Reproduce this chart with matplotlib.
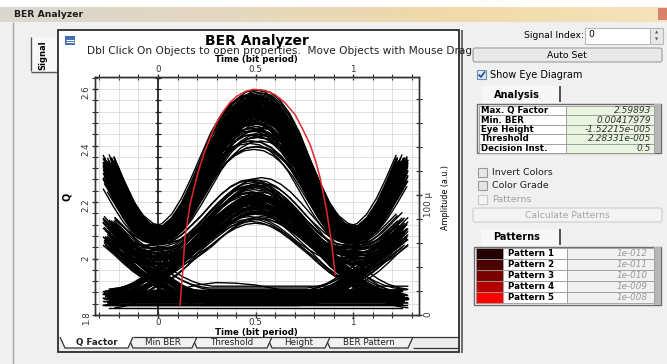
import matplotlib
matplotlib.use("Agg")
import matplotlib.pyplot as plt
from matplotlib.colors import LinearSegmentedColormap
from matplotlib.patches import Rectangle, Polygon, FancyBboxPatch
import numpy as np

plt.rcParams['font.family'] = ['DejaVu Sans']

# --- eye diagram ---
# sampling instants of one trace (bit periods)
T = [-0.25, -0.2, -0.15, -0.1, -0.05, 0.0, 0.05, 0.1, 0.15, 0.2, 0.25, 0.3, 0.35, 0.4, 0.45, 0.5,
     0.55, 0.6, 0.65, 0.7, 0.75, 0.8, 0.85, 0.9, 0.95, 1.0, 1.05, 1.1, 1.15, 1.2, 1.25]

# upper family (0 at the trough near t=0, 1 at the top near t=0.5)
HIGH_PROFILE = [0.54, 0.37, 0.215, 0.095, 0.024, 0.0, 0.024, 0.095, 0.215, 0.37, 0.54, 0.71, 0.84, 0.93, 0.985, 1.0,
                0.985, 0.93, 0.84, 0.71, 0.54, 0.37, 0.215, 0.095, 0.024, 0.0, 0.024, 0.095, 0.215, 0.37, 0.54]
HIGH_PEAK = [186, 184, 183, 181, 180, 179, 178, 177, 176, 175, 175, 174, 173, 172, 171, 170, 169, 168,
             167, 166, 165, 164, 163, 161, 160, 158, 156, 154, 152, 150, 147, 144, 141, 182, 177, 171]
HIGH_TROUGH = [64, 66, 63, 68, 65, 70, 62, 67, 64, 66, 69, 63, 65, 71, 64, 67, 62, 66,
               68, 63, 65, 70, 64, 67, 62, 66, 63, 68, 65, 61, 64, 66, 63, 72, 69, 65]

# lower family: pulse of the previous, current and next bit
PULSE_PREV = [0.68, 0.58, 0.47, 0.37, 0.29, 0.22, 0.15, 0.09, 0.045, 0.015, 0, 0, 0, 0, 0, 0,
              0, 0, 0, 0, 0, 0, 0, 0, 0, 0, 0, 0, 0, 0, 0]
PULSE_CUR = [0, 0.015, 0.045, 0.09, 0.15, 0.22, 0.29, 0.37, 0.47, 0.58, 0.68, 0.78, 0.87, 0.94, 0.985, 1.0,
             0.985, 0.94, 0.87, 0.78, 0.68, 0.58, 0.47, 0.37, 0.29, 0.22, 0.15, 0.09, 0.045, 0.015, 0]
PULSE_NEXT = [0, 0, 0, 0, 0, 0, 0, 0, 0, 0, 0, 0, 0, 0, 0, 0,
              0, 0, 0, 0, 0, 0.015, 0.045, 0.09, 0.15, 0.22, 0.29, 0.37, 0.47, 0.58, 0.68]
MID_BASE = [12, 14, 11, 16, 13, 15, 10, 17, 18, 9, 15, 12, 20, 11, 16, 14,
            10, 16, 13, 19, 12, 17, 14, 11, 15, 12, 18, 10, 16, 13, 20, 12,
            13, 18, 10, 14, 11, 19, 12, 16, 17, 11, 14, 19, 15, 10, 13, 18]
MID_PREV = [0, 0, 0, 0, 72, 66, 90, 80, 0, 0, 0, 0, 84, 76, 70, 93,
            0, 0, 0, 0, 68, 88, 79, 74, 0, 0, 0, 0, 91, 71, 85, 67,
            0, 0, 0, 0, 77, 82, 73, 89, 0, 0, 0, 0, 86, 69, 94, 78]
MID_CUR = [0, 0, 88, 80, 0, 0, 76, 92, 0, 0, 71, 94, 0, 0, 85, 68,
           0, 0, 90, 77, 0, 0, 70, 83, 0, 0, 79, 86, 0, 0, 93, 74,
           0, 0, 67, 82, 0, 0, 88, 75, 0, 0, 84, 72, 0, 0, 78, 91]
MID_NEXT = [0, 78, 0, 70, 0, 84, 0, 74, 0, 92, 0, 81, 0, 67, 0, 88,
            0, 73, 0, 95, 0, 80, 0, 69, 0, 86, 0, 76, 0, 90, 0, 71,
            0, 68, 0, 83, 0, 75, 0, 94, 0, 79, 0, 87, 0, 72, 0, 85]
LOW_LEVEL = [9, 10.5, 12, 13, 14, 15.5, 17, 18.5, 20]
SMALL_T = [0.0, 0.1, 0.2, 0.3, 0.4, 0.5, 0.6, 0.7, 0.8, 0.9]
SMALL_AMP = [14, 21, 25, 27, 26.5, 25, 22, 19, 16, 14]
# timing / level spread seen inside each band
JIT_T = [-0.03, 0.012, -0.008, 0.025, 0.0, -0.018, 0.03, -0.024, 0.006]
JIT_A = [-3.0, 1.5, -1.0, 3.5, 0.0, -2.0, 2.5, -4.0, 1.0, 4.0, -0.5]

# Q factor vs decision instant (red)
Q_TIME = [0.113, 0.127, 0.138, 0.164, 0.185, 0.207, 0.235, 0.267, 0.3, 0.335, 0.37, 0.403, 0.45, 0.49,
          0.55, 0.6, 0.65, 0.703, 0.74, 0.78, 0.81, 0.831, 0.85, 0.865, 0.88, 0.891, 0.908]
Q_VALUE = [1.836, 1.956, 2.073, 2.19, 2.25, 2.309, 2.37, 2.427, 2.48, 2.521, 2.553, 2.574, 2.592, 2.599,
           2.594, 2.58, 2.552, 2.509, 2.46, 2.403, 2.34, 2.285, 2.22, 2.167, 2.10, 2.049, 1.943]

ANALYSIS_LABELS = ['Max. Q Factor', 'Min. BER', 'Eye Height', 'Threshold', 'Decision Inst.']
ANALYSIS_VALUES = ['2.59893', '0.00417979', '-1.52215e-005', '2.28331e-005', '0.5']
PATTERN_LABELS = ['Pattern 1', 'Pattern 2', 'Pattern 3', 'Pattern 4', 'Pattern 5']
PATTERN_BER = ['1e-012', '1e-011', '1e-010', '1e-009', '1e-008']
PATTERN_COLORS = ['#220000', '#4d0000', '#7a0000', '#b30000', '#ff0000']
BOTTOM_TABS = ['Q Factor', 'Min BER', 'Threshold', 'Height', 'BER Pattern']

W, H = 667, 364
fig = plt.figure(figsize=(W / 100, H / 100), dpi=100)
fig.patch.set_facecolor('#f0f0f0')

ui = fig.add_axes([0, 0, 1, 1])
ui.axis('off')


def box(x0, y0, x1, y1, fc='none', ec='none', lw=1.0, z=1):
    r = Rectangle((x0, y0), x1 - x0, y1 - y0, facecolor=fc, edgecolor=ec, lw=lw, zorder=z)
    ui.add_patch(r)
    return r


def line(xs, ys, c='#333333', lw=1.0, z=2):
    ui.plot(xs, ys, color=c, lw=lw, zorder=z, solid_capstyle='butt')


# window title bar
bar = LinearSegmentedColormap.from_list('bar', ['#dad7d0', '#e3d8c0', '#f0d9aa', '#f6e3bc'])
ui.imshow(np.linspace(0, 1, 256)[None, :], extent=(0, W, 22, 7), aspect='auto', cmap=bar, zorder=0)
box(0, 0, W, 7, fc='white', z=0.5)
ui.text(14, 14.5, 'BER Analyzer', fontsize=6.7, fontweight='bold', color='#1e1e1e', va='center')
box(658, 8, 667, 20, fc='#d9826a', z=0.6)
line([13, 13], [22, H], c='#a8a8a8')

# "Signal" side tab
box(31, 37, 57, 72, fc='#f8f8f8', z=1)
line([31, 31], [37, 71], c='#555555')
line([31, 57], [72, 72], c='#555555')
ui.text(43, 55, 'Signal', rotation=90, fontsize=6, fontweight='bold', ha='center', va='center')

# graph panel
panel = box(58, 30, 459, 352, fc='white', ec='#2b2b2b', lw=1.3)
line([462, 462], [30, 353], c='#555555', lw=1.2)
box(65, 36, 75, 45, fc='#3f6db5', z=2)
line([66, 74], [39.5, 39.5], c='white', lw=0.8, z=3)
line([66, 74], [42, 42], c='white', lw=0.8, z=3)
ui.text(257, 40.5, 'BER Analyzer', fontsize=10, fontweight='bold', ha='center', va='center')
sub = ui.text(87, 51.5, 'Dbl Click On Objects to open properties.  Move Objects with Mouse Drag',
              fontsize=7.6, ha='left', va='center', color='#222222')
sub.set_clip_path(panel)
ui.text(256, 60, 'Time (bit period)', fontsize=6.2, fontweight='bold', ha='center', va='center')
ui.text(256, 332.5, 'Time (bit period)', fontsize=6.2, fontweight='bold', ha='center', va='center')
ui.text(67, 197, 'Q', rotation=90, fontsize=7, fontweight='bold', ha='center', va='center')
ui.text(446, 198, 'Amplitude (a.u.)', rotation=90, fontsize=5.8, ha='center', va='center')

# bottom tabs
tab_x = [(60, 133), (128, 197), (192, 272), (267, 330), (325, 413)]
box(59, 337, 458, 351, fc='#ececec', z=1)
for i in range(len(BOTTOM_TABS) - 1, -1, -1):
    l, r = tab_x[i]
    fc = 'white' if i == 0 else '#f2f2f2'
    ui.add_patch(Polygon([(l, 337), (l + 5, 348), (r - 5, 348), (r, 337)], closed=False,
                         facecolor=fc, edgecolor='#333333', lw=0.9, zorder=2 + (i == 0)))
    ui.text((l + r) / 2, 342.5, BOTTOM_TABS[i], fontsize=6.3, ha='center', va='center', zorder=4,
            fontweight='bold' if i == 0 else 'normal', color='#222222')
line([133, 458], [337, 337], c='#333333', lw=0.9, z=2.5)
line([413, 458], [348, 348], c='#333333', lw=0.9)

# right-hand controls
ui.text(584, 36, 'Signal Index:', fontsize=6.7, ha='right', va='center')
box(585, 28, 650, 44, fc='white', ec='#b8b8b8', lw=0.8)
ui.text(588, 34.5, '0', fontsize=6.7, va='center')
box(650, 28, 663, 44, fc='#e8e8e8', ec='#b8b8b8', lw=0.8)
ui.text(656.5, 33, '▲', fontsize=3, ha='center', va='center', color='#555555')
ui.text(656.5, 39.5, '▼', fontsize=3, ha='center', va='center', color='#555555')
ui.add_patch(FancyBboxPatch((473, 48), 189, 14, boxstyle='round,pad=0,rounding_size=2',
                            facecolor='#e9e9e9', edgecolor='#9c9c9c', lw=0.8, zorder=1))
ui.text(567, 55, 'Auto Set', fontsize=6.7, ha='center', va='center')
box(477, 70, 486, 79, fc='#dfe9f5', ec='#6f8fb5', lw=0.8)
line([478.5, 481, 485], [74.5, 77, 71.5], c='#244d8f', lw=1.2, z=3)
ui.text(490, 75, 'Show Eye Diagram', fontsize=7, va='center')

# Analysis tab + table
box(482, 86, 560, 103, fc='#f7f7f7', z=1)
line([560, 560], [86, 102], c='#333333', lw=1.2)
ui.text(517, 94.5, 'Analysis', fontsize=7, fontweight='bold', ha='center', va='center')
box(477, 104, 661, 153, fc='#f4f4f4', ec='#6e6e6e', lw=1.0)
box(654, 104, 661, 153, fc='#b5b5b5', z=1.5)
rh = 9.4
for i, (lab, val) in enumerate(zip(ANALYSIS_LABELS, ANALYSIS_VALUES)):
    y0 = 106 + i * rh
    box(479, y0, 566, y0 + rh, fc='white', ec='#9a9a9a', lw=0.6, z=2)
    box(566, y0, 654, y0 + rh, fc='#e9f5e1', ec='#9a9a9a', lw=0.6, z=2)
    ui.text(481, y0 + rh / 2, lab, fontsize=6.2, fontweight='bold', va='center', zorder=3)
    ui.text(651, y0 + rh / 2, val, fontsize=6.5, style='italic', ha='right', va='center',
            color='#333333', zorder=3)

for k, (lab, yc) in enumerate([('Invert Colors', 172.5), ('Color Grade', 185.5), ('Patterns', 199)]):
    dis = k == 2
    box(478, yc - 4.5, 487, yc + 4.5, fc='#f4f4f4' if dis else '#e6e6e6',
        ec='#c8c8c8' if dis else '#9a9a9a', lw=0.8)
    ui.text(492, yc, lab, fontsize=6.8, va='center', color='#a0a0a0' if dis else '#222222')
ui.add_patch(FancyBboxPatch((473, 208), 189, 14, boxstyle='round,pad=0,rounding_size=2',
                            facecolor='#f3f3f3', edgecolor='#cfcfcf', lw=0.8, zorder=1))
ui.text(567, 215, 'Calculate Patterns', fontsize=6.7, ha='center', va='center', color='#a6a6a6')

# Patterns tab + table
box(481, 229, 560, 246, fc='#f7f7f7', z=1)
line([560, 560], [229, 245], c='#333333', lw=1.2)
ui.text(517, 237.5, 'Patterns', fontsize=7, fontweight='bold', ha='center', va='center')
box(474, 247, 661, 305, fc='#f4f4f4', ec='#6e6e6e', lw=1.0)
box(654, 247, 661, 305, fc='#b5b5b5', z=1.5)
rh = 11
for i, (lab, ber, col) in enumerate(zip(PATTERN_LABELS, PATTERN_BER, PATTERN_COLORS)):
    y0 = 248 + i * rh
    box(476, y0, 503, y0 + rh, fc=col, ec='#9a9a9a', lw=0.6, z=2)
    box(503, y0, 567, y0 + rh, fc='white', ec='#9a9a9a', lw=0.6, z=2)
    box(567, y0, 654, y0 + rh, fc='#f1f1f1', ec='#9a9a9a', lw=0.6, z=2)
    ui.text(508, y0 + rh / 2, lab, fontsize=6.3, fontweight='bold', va='center', zorder=3)
    ui.text(648, y0 + rh / 2, ber, fontsize=6.3, style='italic', ha='right', va='center',
            color='#9a9a9a', zorder=3)

ui.set_xlim(0, W)
ui.set_ylim(H, 0)

# --- plot area ---
L, TOP, R, B = 95, 77, 419, 315
ax = fig.add_axes([L / W, (H - B) / H, (R - L) / W, (B - TOP) / H])
ax2 = ax.twinx()
ax.set_xlim(-0.323, 1.338)
ax.set_ylim(1.8, 2.6425)
ax2.set_ylim(0, 198.3)

ax.set_xticks([0, 0.5, 1])
ax.set_xticklabels(['0', '0.5', '1'])
ax.set_xticks(np.round(np.arange(-0.3, 1.31, 0.1), 2), minor=True)
ax.set_yticks([1.8, 2.0, 2.2, 2.4, 2.6])
ax.set_yticklabels(['1.8', '2', '2.2', '2.4', '2.6'])
yminor = np.round(np.arange(1.8, 2.641, 0.04), 2)
ax.set_yticks(yminor, minor=True)
ax.tick_params(which='both', direction='inout', colors='#333333', labelsize=6.3, pad=0,
               top=True, labeltop=True, right=False)
ax.tick_params(which='major', length=4, width=1)
ax.tick_params(which='minor', length=4, width=0.8)
ax.tick_params(axis='y', labelrotation=90, pad=1)
ax.set_axisbelow(True)
ax.grid(True, which='both', color='#dadada', lw=0.6)

ax2.set_yticks([0, 100])
ax2.set_yticklabels(['0', '100 µ'])
ax2.set_yticks([20, 40, 60, 80, 120, 140, 160, 180], minor=True)
ax2.tick_params(which='both', direction='inout', colors='#333333', labelsize=6.3, pad=1, labelrotation=90)
ax2.tick_params(which='major', length=5, width=1)
ax2.tick_params(which='minor', length=4, width=0.8)
for a in (ax, ax2):
    for s in a.spines.values():
        s.set_color('#333333')
        s.set_linewidth(1.0)

# origin line with its own ticks
ax.axvline(0, color='#222222', lw=1.3, zorder=1.2)
ax.plot(np.zeros(len(yminor)), yminor, ls='none', marker='_', ms=5, mew=0.9, color='#222222', zorder=1.2)

# eye traces, drawn in amplitude units; each band is drawn three times with its spread
amp = ax2.transData
traces = []
for pk, tg in zip(HIGH_PEAK, HIGH_TROUGH):
    traces.append([tg + (pk - tg) * p for p in HIGH_PROFILE])
for b0, hp, hc, hn in zip(MID_BASE, MID_PREV, MID_CUR, MID_NEXT):
    traces.append([b0 + hp * a + hc * c + hn * n for a, c, n in zip(PULSE_PREV, PULSE_CUR, PULSE_NEXT)])
for i, y in enumerate(traces):
    for j in range(3):
        dt = JIT_T[(i + 3 * j) % len(JIT_T)]
        da = JIT_A[(2 * i + j) % len(JIT_A)]
        ax.plot([t + dt for t in T], [v + da for v in y], color='black', lw=1.0, transform=amp, zorder=2)
for lv in LOW_LEVEL:
    ax.plot([T[0], T[-1]], [lv, lv], color='black', lw=1.0, transform=amp, zorder=2)
ax.plot(SMALL_T, SMALL_AMP, color='black', lw=1.0, transform=amp, zorder=2)

ax.plot(Q_TIME, Q_VALUE, color='#e3262b', lw=1.1, zorder=3)

fig.savefig('out.png', dpi=100, facecolor=fig.get_facecolor())
